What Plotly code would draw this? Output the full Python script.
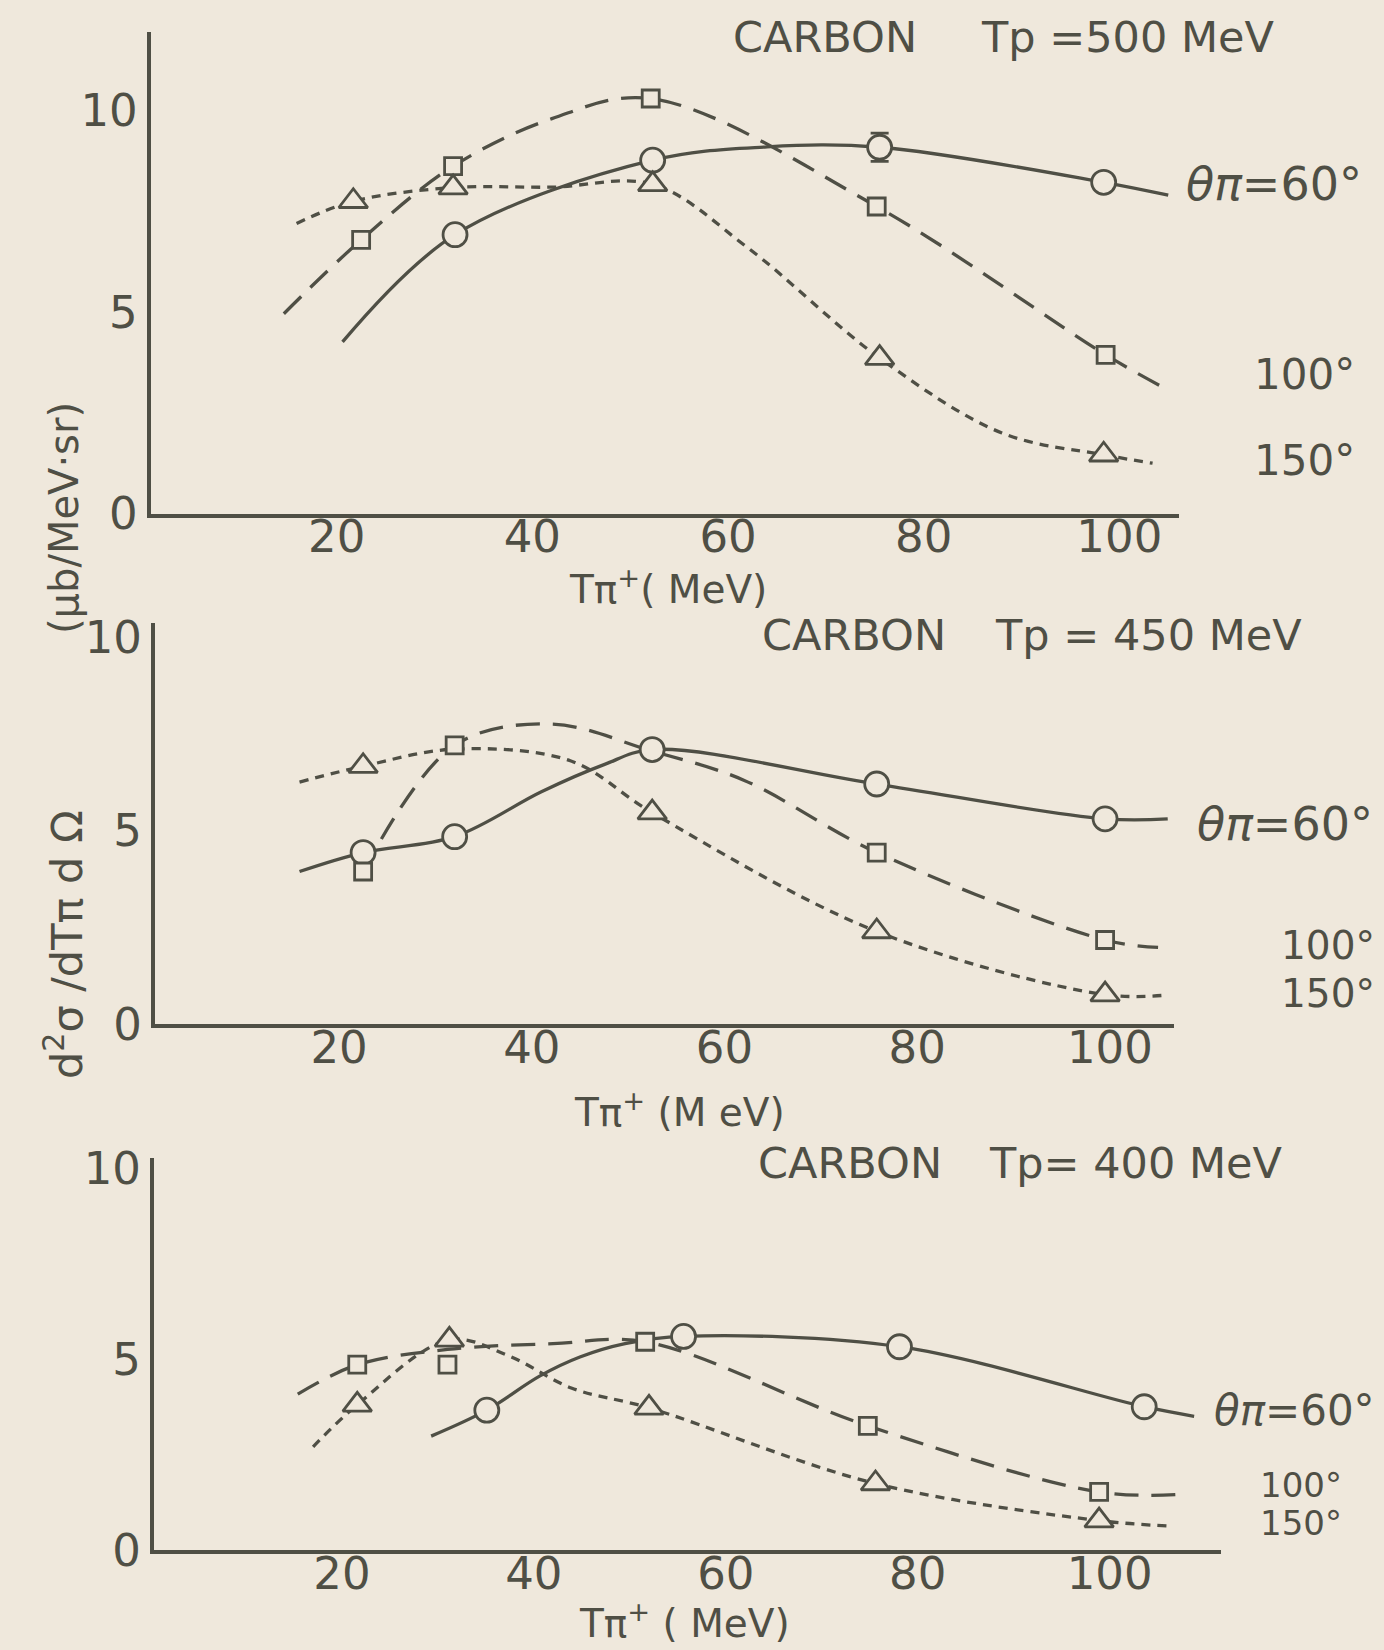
import plotly.graph_objects as go

W, H = 1384, 1650
BG = "#efe8dc"
INK = "#4f4f45"
FONT = "DejaVu Sans"

# ---------------- data ----------------
# Panel A: CARBON Tp = 500 MeV
a60_x = [32.1, 52.3, 75.5, 98.4]
a60_y = [6.92, 8.77, 9.09, 8.22]
a60_err = [0, 0, 0.35, 0]
a60_cx = [20.6, 32.1, 52.3, 64.0, 75.5, 98.4, 105.0]
a60_cy = [4.26, 6.92, 8.77, 9.1, 9.09, 8.22, 7.9]

a100_x = [22.5, 31.9, 52.1, 75.2, 98.6]
a100_y = [6.79, 8.62, 10.3, 7.62, 3.94]
a100_cx = [14.6, 22.5, 31.9, 42.0, 52.1, 75.2, 98.6, 104.5]
a100_cy = [4.96, 6.79, 8.62, 9.8, 10.3, 7.62, 3.94, 3.13]

a150_x = [21.7, 31.9, 52.3, 75.5, 98.4]
a150_y = [7.75, 8.09, 8.17, 3.86, 1.46]
a150_cx = [15.9, 21.7, 31.9, 42.0, 52.3, 62.0, 75.5, 88.0, 98.4, 103.4]
a150_cy = [7.2, 7.75, 8.09, 8.1, 8.17, 6.6, 3.86, 2.0, 1.46, 1.25]

# Panel B: CARBON Tp = 450 MeV
b60_x = [22.5, 32.0, 52.5, 75.8, 99.5]
b60_y = [4.43, 4.84, 7.09, 6.2, 5.3]
b60_cx = [15.9, 22.5, 32.0, 41.0, 47.5, 52.5, 75.8, 99.5, 106.0]
b60_cy = [3.94, 4.43, 4.84, 6.0, 6.7, 7.09, 6.2, 5.3, 5.3]

b100_x = [22.5, 32.0, 75.8, 99.5]
b100_y = [3.94, 7.2, 4.43, 2.17]
b100_cx = [22.5, 32.0, 42.0, 52.5, 62.0, 75.8, 99.5, 105.0]
b100_cy = [3.94, 7.2, 7.75, 7.05, 6.3, 4.43, 2.17, 1.98]

b150_x = [22.5, 52.5, 75.8, 99.5]
b150_y = [6.66, 5.46, 2.39, 0.76]
b150_cx = [15.9, 22.5, 32.0, 44.0, 52.5, 75.8, 99.5, 106.0]
b150_cy = [6.25, 6.66, 7.1, 6.8, 5.46, 2.39, 0.76, 0.75]

# Panel C: CARBON Tp = 400 MeV
c60_x = [35.1, 55.6, 78.1, 103.6]
c60_y = [3.66, 5.59, 5.32, 3.75]
c60_cx = [29.3, 35.1, 40.6, 44.8, 49.5, 55.6, 78.1, 103.6, 108.8]
c60_cy = [2.98, 3.66, 4.55, 5.05, 5.4, 5.59, 5.32, 3.75, 3.5]

c100_x = [21.6, 31.0, 51.6, 74.8, 98.9]
c100_y = [4.85, 4.85, 5.45, 3.25, 1.52]
c100_cx = [15.4, 21.6, 31.0, 42.0, 51.6, 74.8, 98.9, 107.7]
c100_cy = [4.08, 4.85, 5.25, 5.4, 5.45, 3.25, 1.52, 1.46]

c150_x = [21.6, 31.2, 52.0, 75.6, 98.9]
c150_y = [3.8, 5.5, 3.72, 1.74, 0.77]
c150_cx = [17.0, 21.6, 31.2, 37.4, 43.9, 52.0, 75.6, 98.9, 106.0]
c150_cy = [2.7, 3.8, 5.5, 5.08, 4.24, 3.72, 1.74, 0.77, 0.63]

x_ticks = [20, 40, 60, 80, 100]
y_ticks = [0, 5, 10]
titles = [("CARBON", "Tp =500 MeV"), ("CARBON", "Tp = 450 MeV"), ("CARBON", "Tp= 400 MeV")]
angle_labels = ["<i>θπ</i>=60°", "100°", "150°"]
x_titles = ["Tπ<sup>+</sup>( MeV)", "Tπ<sup>+</sup> (M eV)", "Tπ<sup>+</sup> ( MeV)"]

# ---------------- layout geometry (pixels) ----------------
panels = [
    dict(l=150.5, r=1179, b=513.6, t=31.6, xr=[0.97, 106.1], yr=[0, 11.96]),
    dict(l=154.7, r=1173.5, b=1024, t=623, xr=[0.87, 106.6], yr=[0, 10.36]),
    dict(l=153.7, r=1221, b=1550, t=1158, xr=[0.39, 111.6], yr=[0, 10.26]),
]
title_pos = [((731, 37), (979, 37)), ((760, 635), (993, 635)), ((756, 1163), (987, 1163))]
label_pos = [
    [(1184, 184), (1252, 374), (1252, 460)],
    [(1195, 824), (1279, 945), (1279, 993)],
    [(1212, 1410), (1258, 1485), (1258, 1523)],
]
label_size = [[46, 42, 42], [46, 39, 39], [42, 34, 34]]
xtitle_pos = [(668, 587), (679, 1110), (684, 1621)]

series = [
    [(a60_x, a60_y, a60_cx, a60_cy, a60_err), (a100_x, a100_y, a100_cx, a100_cy, None),
     (a150_x, a150_y, a150_cx, a150_cy, None)],
    [(b60_x, b60_y, b60_cx, b60_cy, None), (b100_x, b100_y, b100_cx, b100_cy, None),
     (b150_x, b150_y, b150_cx, b150_cy, None)],
    [(c60_x, c60_y, c60_cx, c60_cy, None), (c100_x, c100_y, c100_cx, c100_cy, None),
     (c150_x, c150_y, c150_cx, c150_cy, None)],
]
styles = [
    dict(dash="solid", symbol="circle", size=24),
    dict(dash="24px,13px", symbol="square", size=17),
    dict(dash="9px,7px", symbol="triangle-up", size=25),
]


def px(x):
    return x / W


def py(y):
    return 1 - y / H


fig = go.Figure()
annotations = []

for i, (pan, ser) in enumerate(zip(panels, series)):
    sfx = "" if i == 0 else str(i + 1)
    xa, ya = "x" + sfx, "y" + sfx
    for (mx, my, cx, cy, err), st in zip(ser, styles):
        fig.add_trace(go.Scatter(
            x=cx, y=cy, mode="lines", xaxis=xa, yaxis=ya,
            line=dict(color=INK, width=3.3, dash=st["dash"], shape="spline", smoothing=1.0),
            hoverinfo="skip", showlegend=False, cliponaxis=False))
    for (mx, my, cx, cy, err), st in zip(ser, styles):
        kw = {}
        if err is not None:
            kw["error_y"] = dict(type="data", array=err, visible=True, color=INK,
                                 thickness=2.8, width=9)
        fig.add_trace(go.Scatter(
            x=mx, y=my, mode="markers", xaxis=xa, yaxis=ya,
            marker=dict(symbol=st["symbol"], size=st["size"], color=BG,
                        line=dict(color=INK, width=2.8)),
            showlegend=False, cliponaxis=False, **kw))

    axis_common = dict(showgrid=False, zeroline=False, showline=True, linecolor=INK,
                       linewidth=3.5, ticks="", ticklen=0, automargin=False,
                       tickfont=dict(family=FONT, size=45, color=INK))
    fig.layout["xaxis" + sfx] = dict(
        axis_common, domain=[px(pan["l"]), px(pan["r"])], range=pan["xr"],
        tickvals=x_ticks, anchor=ya, ticklabelstandoff=-19)
    fig.layout["yaxis" + sfx] = dict(
        axis_common, domain=[py(pan["b"]), py(pan["t"])], range=pan["yr"],
        tickvals=y_ticks, anchor=xa, ticklabelstandoff=0)

    (t1, t2) = titles[i]
    (p1, p2) = title_pos[i]
    for txt, p in ((t1, p1), (t2, p2)):
        annotations.append(dict(text=txt, x=px(p[0]), y=py(p[1]), xref="paper", yref="paper",
                                xanchor="left", yanchor="middle", showarrow=False,
                                font=dict(family=FONT, size=43, color=INK)))
    for txt, p, fs in zip(angle_labels, label_pos[i], label_size[i]):
        annotations.append(dict(text=txt, x=px(p[0]), y=py(p[1]), xref="paper", yref="paper",
                                xanchor="left", yanchor="middle", showarrow=False,
                                font=dict(family=FONT, size=fs, color=INK)))
    xt = xtitle_pos[i]
    annotations.append(dict(text=x_titles[i], x=px(xt[0]), y=py(xt[1]), xref="paper", yref="paper",
                            xanchor="center", yanchor="middle", showarrow=False,
                            font=dict(family=FONT, size=39, color=INK)))

# y-axis title (two parts, rotated)
annotations.append(dict(text="d<sup>2</sup>σ /dTπ d Ω", x=px(64), y=py(945), xref="paper", yref="paper",
                        textangle=-90, showarrow=False, xanchor="center", yanchor="middle",
                        font=dict(family=FONT, size=43, color=INK)))
annotations.append(dict(text="(μb/MeV·sr)", x=px(64), y=py(518), xref="paper", yref="paper",
                        textangle=-90, showarrow=False, xanchor="center", yanchor="middle",
                        font=dict(family=FONT, size=40, color=INK)))

fig.update_layout(
    template="none",
    width=W, height=H, margin=dict(l=0, r=0, t=0, b=0, pad=0, autoexpand=False),
    paper_bgcolor=BG, plot_bgcolor=BG, annotations=annotations, showlegend=False,
)

fig.write_html("out.html")
